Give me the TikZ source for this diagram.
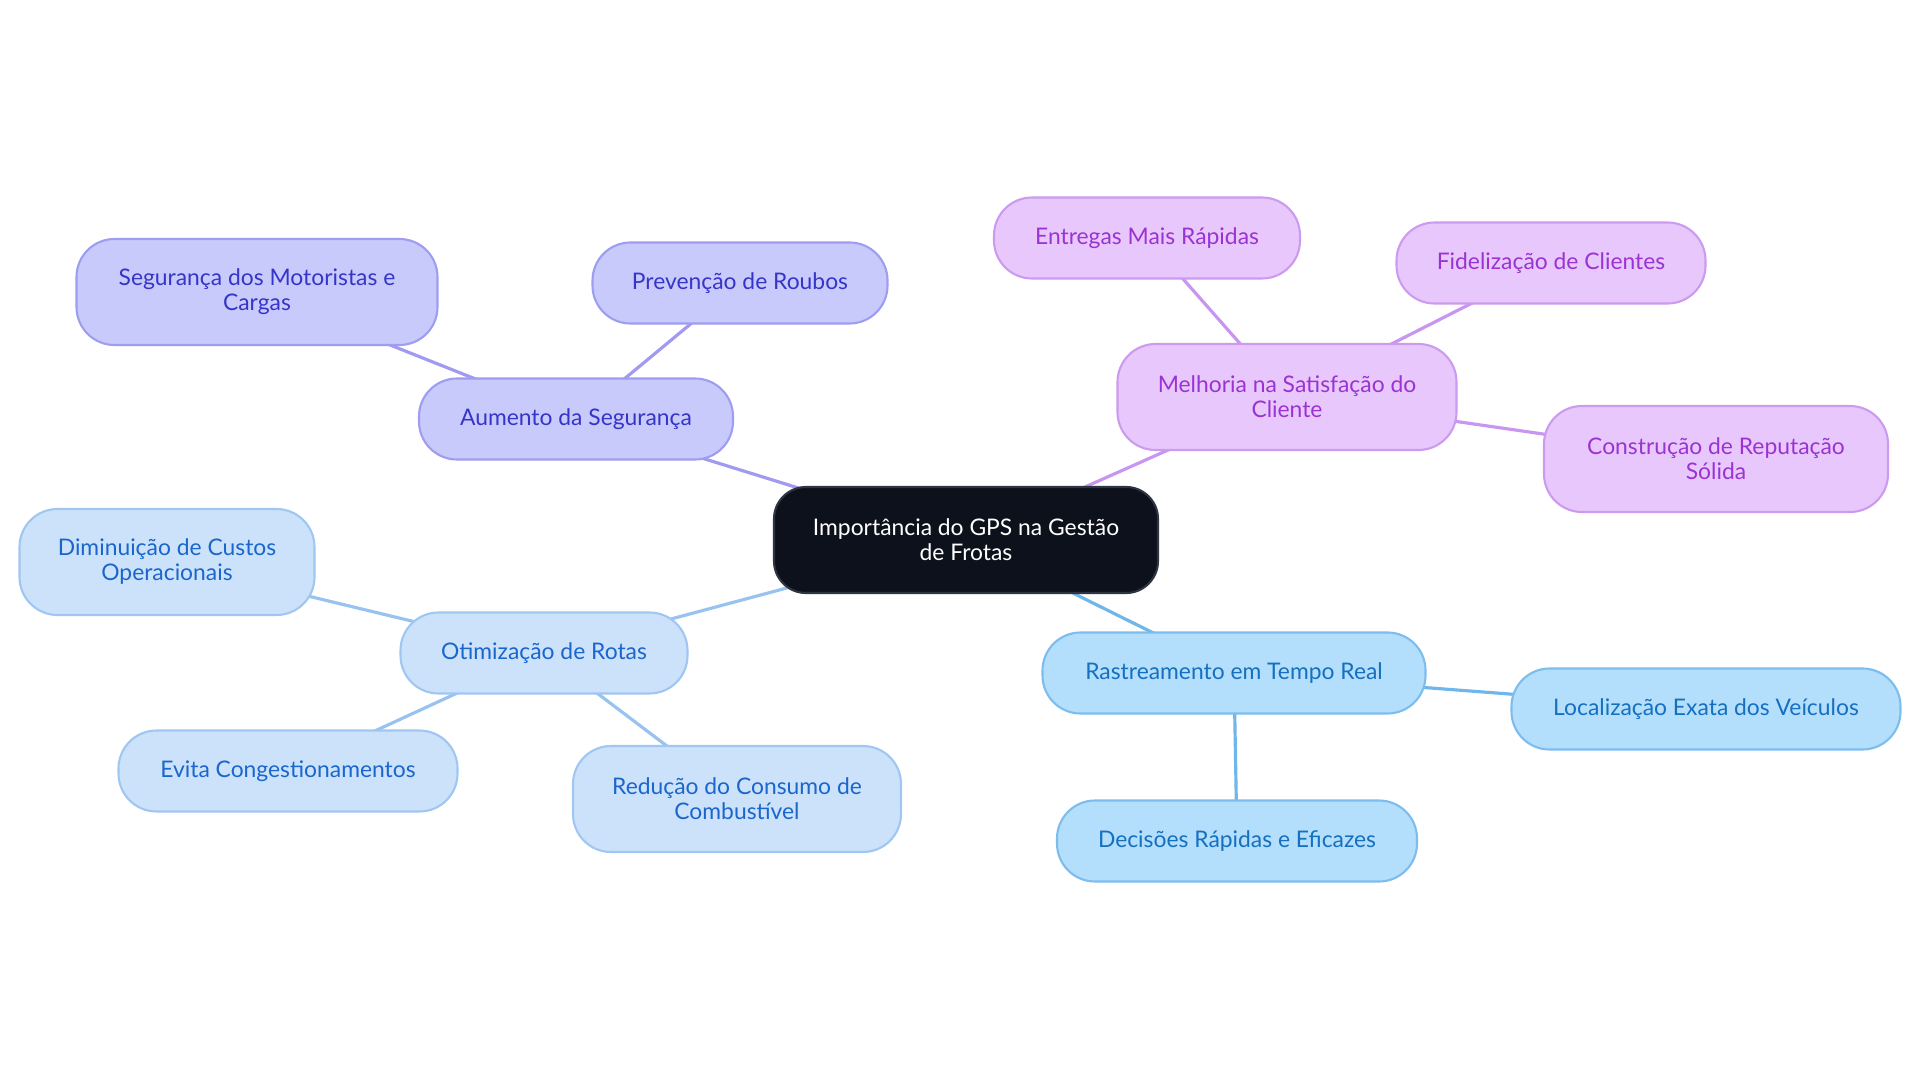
\documentclass[tikz,border=0pt]{standalone}
\usepackage{fontspec}
\setmainfont{Lato}
\usetikzlibrary{backgrounds}

\definecolor{rootfill}{HTML}{0C111B}
\definecolor{rootline}{HTML}{2E3440}
\definecolor{safefill}{HTML}{C9CAFC}
\definecolor{safeline}{HTML}{9D9DF2}
\definecolor{safetext}{HTML}{3535C8}
\definecolor{safelink}{HTML}{A09AF0}
\definecolor{happyfill}{HTML}{E8C8FC}
\definecolor{happyline}{HTML}{CC9AEE}
\definecolor{happytext}{HTML}{9A33D2}
\definecolor{happylink}{HTML}{C896F0}
\definecolor{trackfill}{HTML}{B3DEFC}
\definecolor{trackline}{HTML}{7DBDEE}
\definecolor{tracktext}{HTML}{1570C0}
\definecolor{tracklink}{HTML}{6FB6EA}
\definecolor{routefill}{HTML}{CCE2FA}
\definecolor{routeline}{HTML}{A0C6F2}
\definecolor{routetext}{HTML}{1A66CC}
\definecolor{routelink}{HTML}{98C2F0}

\tikzset{
  idea/.style={draw, rounded corners=0.38cm, align=center, line width=0.6pt,
    minimum height=0.81cm, inner sep=0pt, font=\fontsize{6.5}{7.1}\selectfont},
  tall/.style={minimum height=1.06cm},
  root/.style={idea, tall, fill=rootfill, draw=rootline, text=white, rounded corners=0.32cm},
  safe/.style={idea, fill=safefill, draw=safeline, text=safetext},
  happy/.style={idea, fill=happyfill, draw=happyline, text=happytext},
  track/.style={idea, fill=trackfill, draw=trackline, text=tracktext},
  route/.style={idea, fill=routefill, draw=routeline, text=routetext},
  link/.style={line width=0.9pt}
}

\begin{document}
\begin{tikzpicture}
\useasboundingbox (0,0) rectangle (19.2,-10.83);

\path (9.66,-5.40) node[root, minimum width=3.84cm] (gps) {Importância do GPS na Gestão\\de Frotas}

      % seguranca
      (5.76,-4.19) node[safe, minimum width=3.14cm] (safety) {Aumento da Segurança}
      (2.57,-2.92) node[safe, tall, minimum width=3.61cm] (drivers) {Segurança dos Motoristas e\\Cargas}
      (7.40,-2.83) node[safe, minimum width=2.95cm] (theft) {Prevenção de Roubos}

      % satisfacao
      (12.87,-3.97) node[happy, tall, minimum width=3.39cm] (client) {Melhoria na Satisfação do\\Cliente}
      (11.47,-2.38) node[happy, minimum width=3.06cm] (fast) {Entregas Mais Rápidas}
      (15.51,-2.63) node[happy, minimum width=3.09cm] (loyal) {Fidelização de Clientes}
      (17.16,-4.59) node[happy, tall, minimum width=3.44cm] (fame) {Construção de Reputação\\Sólida}

      % rastreamento
      (12.34,-6.73) node[track, minimum width=3.83cm] (tracking) {Rastreamento em Tempo Real}
      (17.06,-7.09) node[track, minimum width=3.89cm] (where) {Localização Exata dos Veículos}
      (12.37,-8.41) node[track, minimum width=3.60cm] (decide) {Decisões Rápidas e Eficazes}

      % rotas
      (5.44,-6.53) node[route, minimum width=2.87cm] (routes) {Otimização de Rotas}
      (1.67,-5.62) node[route, tall, minimum width=2.95cm] (costs) {Diminuição de Custos\\Operacionais}
      (2.88,-7.71) node[route, minimum width=3.39cm] (jams) {Evita Congestionamentos}
      (7.37,-7.99) node[route, tall, minimum width=3.28cm] (fuel) {Redução do Consumo de\\Combustível};

\begin{scope}[on background layer]
  \fill[white] (0,0) rectangle (19.2,-10.83);
  \draw[link, safelink] (gps.center) -- (safety.center);
  \draw[link, safelink] (safety.center) -- (drivers.center);
  \draw[link, safelink] (safety.center) -- (theft.center);
  \draw[link, happylink] (gps.center) -- (client.center);
  \draw[link, happylink] (client.center) -- (fast.center);
  \draw[link, happylink] (client.center) -- (loyal.center);
  \draw[link, happylink] (client.center) -- (fame.center);
  \draw[link, tracklink] (gps.center) -- (tracking.center);
  \draw[link, tracklink] (tracking.center) -- (where.center);
  \draw[link, tracklink] (tracking.center) -- (decide.center);
  \draw[link, routelink] (gps.center) -- (routes.center);
  \draw[link, routelink] (routes.center) -- (costs.center);
  \draw[link, routelink] (routes.center) -- (jams.center);
  \draw[link, routelink] (routes.center) -- (fuel.center);
\end{scope}

\end{tikzpicture}
\end{document}
